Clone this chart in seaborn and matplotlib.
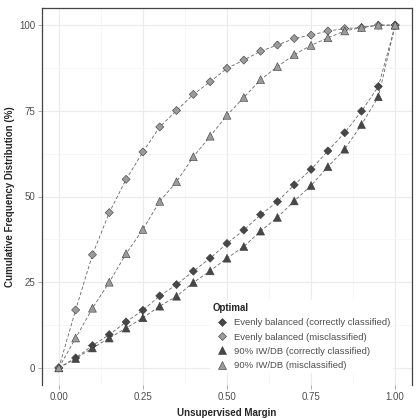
import matplotlib

matplotlib.use("Agg")
import matplotlib.pyplot as plt  # noqa: E402
import pandas as pd  # noqa: E402
import seaborn as sns  # noqa: E402

# margen no supervisado (eje x) y distribución acumulada (%) por serie
margin = [0.00, 0.05, 0.10, 0.15, 0.20, 0.25, 0.30, 0.35, 0.40, 0.45, 0.50,
          0.55, 0.60, 0.65, 0.70, 0.75, 0.80, 0.85, 0.90, 0.95, 1.00]
even_correct = [0, 2.9, 6.5, 9.7, 13.4, 16.8, 21.0, 24.3, 28.2, 32.0, 36.3,
                40.2, 44.7, 48.5, 53.4, 57.9, 63.3, 68.6, 74.9, 82.1, 100]
even_mis = [0, 16.9, 33.0, 45.3, 55.0, 63.0, 70.3, 75.1, 79.8, 83.5, 87.4,
            89.8, 92.4, 94.2, 96.1, 97.1, 98.3, 99.0, 99.3, 100, 100]
iw_correct = [0, 2.7, 5.8, 8.7, 11.6, 14.6, 18.0, 20.9, 24.9, 28.3, 32.0,
              35.4, 39.9, 43.9, 48.7, 53.2, 58.7, 63.8, 71.0, 79.1, 100]
iw_mis = [0, 8.7, 17.4, 25.0, 33.3, 40.4, 48.6, 54.3, 61.6, 67.6, 73.7,
          78.9, 84.1, 87.9, 91.4, 94.1, 96.3, 98.3, 99.3, 100, 100]

labels = [
    "Evenly balanced (correctly classified)",
    "Evenly balanced (misclassified)",
    "90% IW/DB (correctly classified)",
    "90% IW/DB (misclassified)",
]
series = [even_correct, even_mis, iw_correct, iw_mis]

df = pd.concat(
    [pd.DataFrame({"margin": margin, "pct": vals, "Optimal": lab}) for lab, vals in zip(labels, series)],
    ignore_index=True,
)

DARK = "#474747"
LIGHT = "#9b9b9b"
palette = dict(zip(labels, [DARK, LIGHT, DARK, LIGHT]))
markers = dict(zip(labels, ["D", "D", "^", "^"]))
sizes = dict(zip(labels, [17, 17, 32, 32]))

sns.set_theme(style="white")
plt.rcParams["font.family"] = ["Liberation Sans", "DejaVu Sans"]

fig = plt.figure(figsize=(4.17, 4.18), dpi=100)
ax = fig.add_axes([42 / 417, 1 - 385 / 418, 370 / 417, 377 / 418])

for lab in labels:
    sub = df[df["Optimal"] == lab]
    sns.lineplot(data=sub, x="margin", y="pct", ax=ax, color="#666666",
                 linewidth=0.6, linestyle=(0, (4, 2.5)), legend=False, sort=False)

sns.scatterplot(data=df, x="margin", y="pct", hue="Optimal", style="Optimal",
                hue_order=labels, style_order=labels, palette=palette, markers=markers,
                size="Optimal", sizes=sizes, ax=ax, edgecolor="#3a3a3a", linewidth=0.4,
                zorder=3)

ax.set_xlim(-0.05, 1.05)
ax.set_ylim(-5, 105)
ax.set_xticks([0, 0.25, 0.5, 0.75, 1.0])
ax.set_xticklabels(["0.00", "0.25", "0.50", "0.75", "1.00"])
ax.set_yticks([0, 25, 50, 75, 100])
ax.set_xticks([0.125, 0.375, 0.625, 0.875], minor=True)
ax.set_yticks([12.5, 37.5, 62.5, 87.5], minor=True)
ax.grid(True, which="major", color="#ebebeb", linewidth=0.8)
ax.grid(True, which="minor", color="#f4f4f4", linewidth=0.5)
ax.set_axisbelow(True)
ax.tick_params(which="major", length=3, width=0.5, color="#888888",
               labelsize=7, labelcolor="#4d4d4d", pad=2, bottom=True, left=True)
ax.tick_params(which="minor", length=0)

for side in ["left", "top", "right"]:
    ax.spines[side].set_color("#444444")
    ax.spines[side].set_linewidth(0.9)
ax.spines["bottom"].set_visible(False)

ax.set_xlabel("Unsupervised Margin", fontsize=7, fontweight="bold", labelpad=4)
ax.set_ylabel("Cumulative Frequency Distribution (%)", fontsize=7, fontweight="bold", labelpad=3)

handles, _ = ax.get_legend_handles_labels()
leg = ax.legend(handles[-4:], labels, title="Optimal", loc="upper left",
                bbox_to_anchor=(0.44, 0.237), fontsize=6.8, title_fontsize=7,
                frameon=True, facecolor="white", edgecolor="none", framealpha=1,
                handletextpad=0.3, labelspacing=0.55, borderpad=0.3, markerscale=1.0)
leg.get_title().set_fontweight("bold")
leg._legend_box.align = "left"
for t in leg.get_texts():
    t.set_color("#4d4d4d")

fig.savefig("out.png", dpi=100, facecolor="white")
